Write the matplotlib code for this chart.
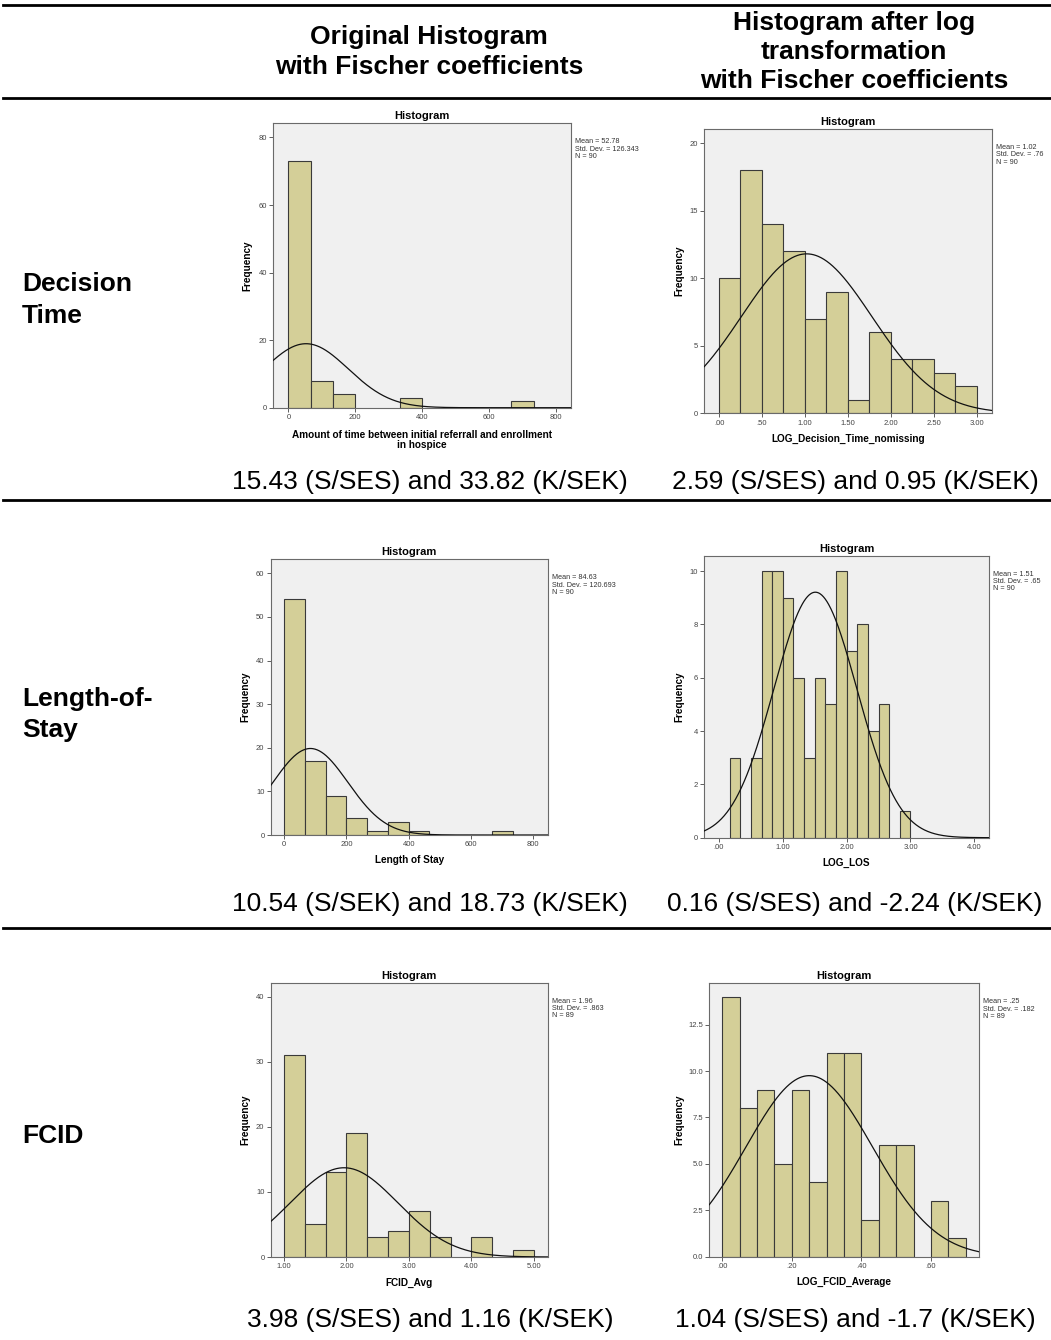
import numpy as np
import matplotlib
matplotlib.use('Agg')
import matplotlib.pyplot as plt
from matplotlib.lines import Line2D

W, H = 1051, 1340
plt.rcParams['font.family'] = ['Liberation Sans', 'DejaVu Sans']

# --- data ---
# Decision time (original)
dt_counts = [73, 8, 4, 0, 0, 3, 0, 0, 0, 0, 2]
dt_start, dt_width = 0.0, 200 / 3
dt_mean, dt_sd, dt_n = 52.78, 126.343, 90
dt_stats = ["Mean = 52.78", "Std. Dev. = 126.343", "N = 90"]

# Decision time (log)
ldt_counts = [10, 18, 14, 12, 7, 9, 1, 6, 4, 4, 3, 2]
ldt_start, ldt_width = 0.0, 0.25
ldt_mean, ldt_sd, ldt_n = 1.02, 0.76, 90
ldt_stats = ["Mean = 1.02", "Std. Dev. = .76", "N = 90"]

# Length of stay (original)
los_counts = [54, 17, 9, 4, 1, 3, 1, 0, 0, 0, 1]
los_start, los_width = 0.0, 200 / 3
los_mean, los_sd, los_n = 84.63, 120.693, 90
los_stats = ["Mean = 84.63", "Std. Dev. = 120.693", "N = 90"]

# Length of stay (log)
llos_counts = [0, 3, 0, 3, 10, 10, 9, 6, 3, 6, 5, 10, 7, 8, 4, 5, 0, 1]
llos_start, llos_width = 0.0, 1 / 6
llos_mean, llos_sd, llos_n = 1.51, 0.65, 90
llos_stats = ["Mean = 1.51", "Std. Dev. = .65", "N = 90"]

# FCID (original)
fc_counts = [31, 5, 13, 19, 3, 4, 7, 3, 0, 3, 0, 1]
fc_start, fc_width = 1.0, 1 / 3
fc_mean, fc_sd, fc_n = 1.96, 0.863, 89
fc_stats = ["Mean = 1.96", "Std. Dev. = .863", "N = 89"]

# FCID (log)
lfc_counts = [14, 8, 9, 5, 9, 4, 11, 11, 2, 6, 6, 0, 3, 1]
lfc_start, lfc_width = 0.0, 0.05
lfc_mean, lfc_sd, lfc_n = 0.25, 0.182, 89
lfc_stats = ["Mean = .25", "Std. Dev. = .182", "N = 89"]

col_headers = ["Original Histogram\nwith Fischer coefficients",
               "Histogram after log\ntransformation\nwith Fischer coefficients"]
row_labels = ["Decision\nTime", "Length-of-\nStay", "FCID"]
coef_orig = ["15.43 (S/SES) and 33.82 (K/SEK)",
             "10.54 (S/SEK) and 18.73 (K/SEK)",
             "3.98 (S/SES) and 1.16 (K/SEK)"]
coef_log = ["2.59 (S/SES) and 0.95 (K/SEK)",
            "0.16 (S/SES) and -2.24 (K/SEK)",
            "1.04 (S/SES) and -1.7 (K/SEK)"]

BAR = '#d4cf98'
BG = '#f0f0f0'

fig = plt.figure(figsize=(W / 100, H / 100), dpi=100)


def fx(x):
    return x / W


def fy(y):
    return 1 - y / H


def hist_panel(box, counts, start, width, mean, sd, n, stats, xlim, ylim,
               xticks, xticklabels, yticks, yticklabels, xlabel, xlab_off, ylab_off):
    l, t, r, b = box
    ax = fig.add_axes([fx(l), fy(b), (r - l) / W, (b - t) / H])
    ax.set_facecolor(BG)
    counts = np.array(counts)
    lefts = start + width * np.arange(len(counts))
    keep = counts > 0
    ax.bar(lefts[keep], counts[keep], width=width, align='edge', color=BAR,
           edgecolor='#3a3a3a', linewidth=0.8, zorder=2)
    xs = np.linspace(xlim[0], xlim[1], 500)
    ys = n * width * np.exp(-0.5 * ((xs - mean) / sd) ** 2) / (sd * np.sqrt(2 * np.pi))
    ax.plot(xs, ys, color='#111111', linewidth=0.9, zorder=3)
    ax.set_xlim(xlim)
    ax.set_ylim(ylim)
    ax.set_xticks(xticks)
    ax.set_xticklabels(xticklabels)
    ax.set_yticks(yticks)
    ax.set_yticklabels(yticklabels)
    ax.tick_params(length=3, width=0.6, color='#444444', pad=1.5,
                   labelsize=5.5, labelcolor='#444444')
    for s in ax.spines.values():
        s.set_color('#6a6a6a')
        s.set_linewidth(0.8)
    ax.set_title("Histogram", fontsize=8, fontweight='bold', pad=3)
    ax.set_xlabel(xlabel, fontsize=7.2, fontweight='bold', va='center',
                  linespacing=1.0)
    ax.xaxis.set_label_coords(0.5, -xlab_off / (b - t))
    ax.set_ylabel("Frequency", fontsize=7.2, fontweight='bold', va='center')
    ax.yaxis.set_label_coords(-ylab_off / (r - l), 0.5)
    fig.text(fx(r + 4), fy(t + 15), "\n".join(stats), fontsize=5.2,
             color='#333333', va='top', ha='left', linespacing=1.05)
    return ax


hist_panel((273.3, 123.3, 570.7, 407.7), dt_counts, dt_start, dt_width,
           dt_mean, dt_sd, dt_n, dt_stats, (-45, 844), (0, 84.2),
           [0, 200, 400, 600, 800], ['0', '200', '400', '600', '800'],
           [0, 20, 40, 60, 80], ['0', '20', '40', '60', '80'],
           "Amount of time between initial referrall and enrollment\nin hospice", 32, 26)

hist_panel((704.3, 129, 991.7, 413.3), ldt_counts, ldt_start, ldt_width,
           ldt_mean, ldt_sd, ldt_n, ldt_stats, (-0.171, 3.174), (0, 21.06),
           [0, 0.5, 1, 1.5, 2, 2.5, 3], ['.00', '.50', '1.00', '1.50', '2.00', '2.50', '3.00'],
           [0, 5, 10, 15, 20], ['0', '5', '10', '15', '20'],
           "LOG_Decision_Time_nomissing", 26, 25)

hist_panel((270.7, 559.3, 547.7, 835), los_counts, los_start, los_width,
           los_mean, los_sd, los_n, los_stats, (-42.8, 846), (0, 63.2),
           [0, 200, 400, 600, 800], ['0', '200', '400', '600', '800'],
           [0, 10, 20, 30, 40, 50, 60], ['0', '10', '20', '30', '40', '50', '60'],
           "Length of Stay", 25, 25.7)

hist_panel((704.3, 555.7, 989, 837.7), llos_counts, llos_start, llos_width,
           llos_mean, llos_sd, llos_n, llos_stats, (-0.23, 4.23), (0, 10.575),
           [0, 1, 2, 3, 4], ['.00', '1.00', '2.00', '3.00', '4.00'],
           [0, 2, 4, 6, 8, 10], ['0', '2', '4', '6', '8', '10'],
           "LOG_LOS", 25.6, 25)

hist_panel((270.7, 982.7, 547.7, 1257), fc_counts, fc_start, fc_width,
           fc_mean, fc_sd, fc_n, fc_stats, (0.787, 5.22), (0, 42.15),
           [1, 2, 3, 4, 5], ['1.00', '2.00', '3.00', '4.00', '5.00'],
           [0, 10, 20, 30, 40], ['0', '10', '20', '30', '40'],
           "FCID_Avg", 25.7, 25.7)

hist_panel((709.3, 983.3, 979.3, 1256.7), lfc_counts, lfc_start, lfc_width,
           lfc_mean, lfc_sd, lfc_n, lfc_stats, (-0.0374, 0.739), (0, 14.73),
           [0, 0.2, 0.4, 0.6], ['.00', '.20', '.40', '.60'],
           [0, 2.5, 5, 7.5, 10, 12.5], ['0.0', '2.5', '5.0', '7.5', '10.0', '12.5'],
           "LOG_FCID_Average", 25, 30)

# --- table text and rules ---
for y in [5, 97.5, 500, 928]:
    fig.add_artist(Line2D([fx(3), fx(1051)], [fy(y), fy(y)], color='black', linewidth=2))

fig.text(fx(429), fy(52), col_headers[0], fontsize=19, fontweight='bold',
         ha='center', va='center', linespacing=1.27)
fig.text(fx(854), fy(52), col_headers[1], fontsize=19, fontweight='bold',
         ha='center', va='center', linespacing=1.27)

for lab, y in zip(row_labels, [300, 714.5, 1136]):
    fig.text(fx(22), fy(y), lab, fontsize=19, fontweight='bold',
             ha='left', va='center', linespacing=1.37)

for txt, y in zip(coef_orig, [482, 904, 1320]):
    fig.text(fx(430), fy(y), txt, fontsize=19, ha='center', va='center')
for txt, y in zip(coef_log, [482, 904, 1320]):
    fig.text(fx(855), fy(y), txt, fontsize=19, ha='center', va='center')

fig.savefig('out.png', dpi=100)
